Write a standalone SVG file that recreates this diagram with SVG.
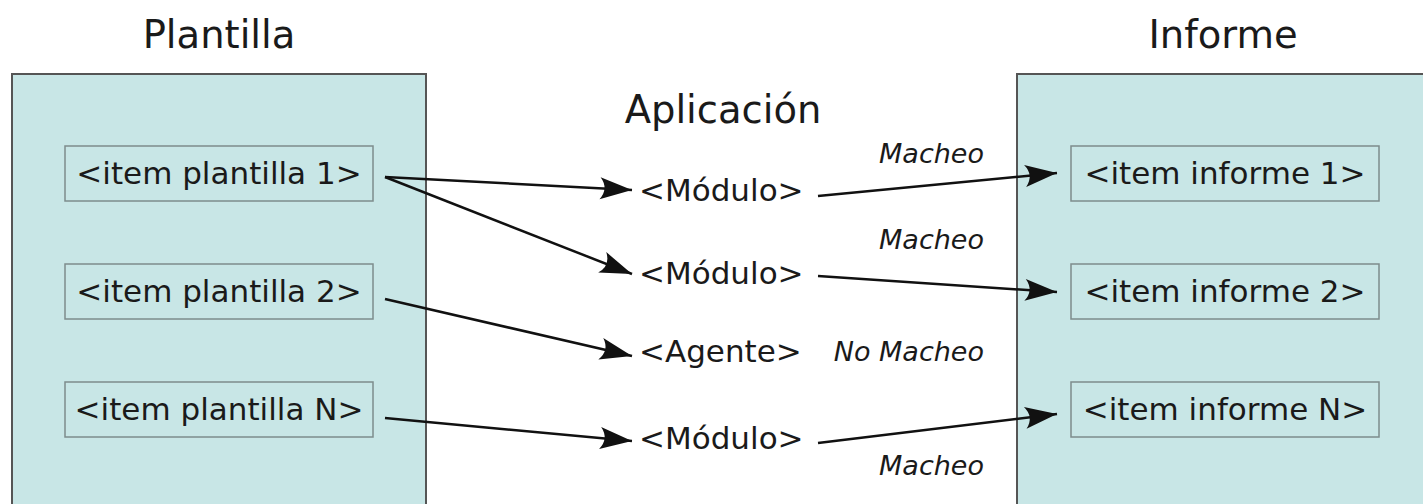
<svg xmlns="http://www.w3.org/2000/svg" width="1423" height="504" viewBox="0 0 1423 504">
<style>
text { font-family: "DejaVu Sans", "Liberation Sans", sans-serif; fill: #1a1a1a; }
.title { font-size: 38.5px; text-anchor: middle; }
.item { font-size: 31px; text-anchor: middle; }
.mid { font-size: 31px; }
.lbl { font-size: 27px; font-style: italic; text-anchor: end; }
.panel { fill: #c8e6e6; stroke: #555; stroke-width: 2; }
.box { fill: #c8e6e6; stroke: #7d8c8c; stroke-width: 1.5; }
.conn { fill: none; stroke: #111; stroke-width: 2.5; marker-end: url(#arrow); }
</style>
<defs>
<marker id="arrow" markerUnits="userSpaceOnUse" markerWidth="40" markerHeight="30" refX="34" refY="12" orient="auto" viewBox="0 0 40 30" overflow="visible">
<path d="M34,12 L2,1 Q11,12 2,23 Z" fill="#111"/>
</marker>
</defs>
<g id="plantilla">
<rect class="panel" x="12" y="74" width="414" height="440"/>
<text class="title" x="219" y="48">Plantilla</text>
</g>
<g id="informe">
<rect class="panel" x="1017" y="74" width="420" height="440"/>
<text class="title" x="1223" y="48">Informe</text>
</g>
<g id="aplicacion">
<text class="title" x="723" y="123">Aplicación</text>
</g>
<g id="item-plantilla-1">
<rect class="box" x="65" y="146" width="308" height="55"/>
<text class="item" x="219" y="184">&lt;item plantilla 1&gt;</text>
</g>
<g id="item-plantilla-2">
<rect class="box" x="65" y="264" width="308" height="55"/>
<text class="item" x="219" y="302">&lt;item plantilla 2&gt;</text>
</g>
<g id="item-plantilla-n">
<rect class="box" x="65" y="382" width="308" height="55"/>
<text class="item" x="219" y="420">&lt;item plantilla N&gt;</text>
</g>
<g id="item-informe-1">
<rect class="box" x="1071" y="146" width="308" height="55"/>
<text class="item" x="1225" y="184">&lt;item informe 1&gt;</text>
</g>
<g id="item-informe-2">
<rect class="box" x="1071" y="264" width="308" height="55"/>
<text class="item" x="1225" y="302">&lt;item informe 2&gt;</text>
</g>
<g id="item-informe-n">
<rect class="box" x="1071" y="382" width="308" height="55"/>
<text class="item" x="1225" y="420">&lt;item informe N&gt;</text>
</g>
<g id="modulo-1"><text class="mid" x="639" y="201">&lt;Módulo&gt;</text></g>
<g id="modulo-2"><text class="mid" x="639" y="284">&lt;Módulo&gt;</text></g>
<g id="agente"><text class="mid" x="639" y="362">&lt;Agente&gt;</text></g>
<g id="modulo-n"><text class="mid" x="639" y="449">&lt;Módulo&gt;</text></g>
<g id="connectors">
<path class="conn" d="M385,177 L632,190"/>
<path class="conn" d="M385,177 L632,274"/>
<path class="conn" d="M385,299 L632,356"/>
<path class="conn" d="M385,418 L632,441"/>
<path class="conn" d="M818,196 L1057,173"/>
<path class="conn" d="M818,276 L1057,292"/>
<path class="conn" d="M818,443 L1057,414"/>
<text class="lbl" x="984" y="163">Macheo</text>
<text class="lbl" x="984" y="249">Macheo</text>
<text class="lbl" x="984" y="361">No Macheo</text>
<text class="lbl" x="984" y="475">Macheo</text>
</g>
</svg>
